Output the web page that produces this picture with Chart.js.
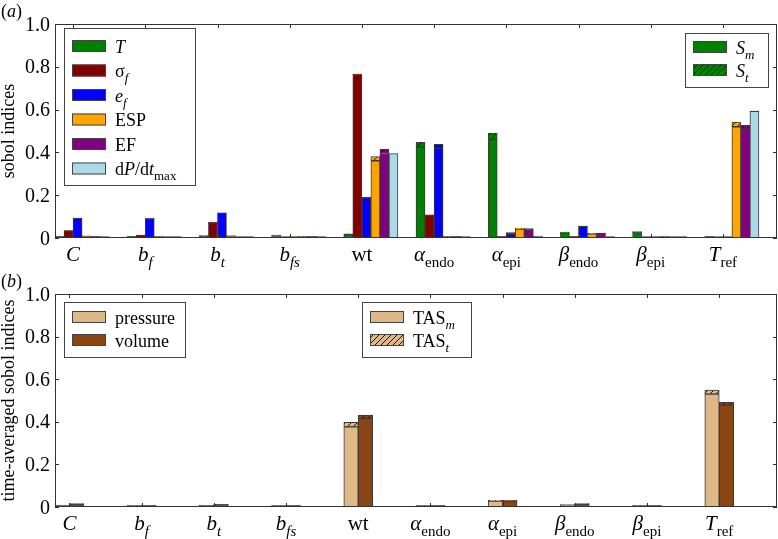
<!DOCTYPE html>
<html>
<head>
<meta charset="utf-8">
<script src="https://cdn.jsdelivr.net/npm/chart.js@4.4.0/dist/chart.umd.min.js"></script>
<style>
html, body { margin: 0; padding: 0; background: #fff; }
canvas { display: block; }
</style>
</head>
<body>
<canvas id="chartA" width="778" height="270"></canvas>
<canvas id="chartB" width="778" height="269"></canvas>
<script>
// tick labels (mini markup: *italic*, _{subscript})
const categories = ['*C*', '*b*_{*f*}', '*b*_{*t*}', '*b*_{*fs*}', 'wt', '*α*_{endo}', '*α*_{epi}', '*β*_{endo}', '*β*_{epi}', '*T*_{ref}'];
const yTicks = [0, 0.2, 0.4, 0.6, 0.8, 1.0];

// panel (a): main (S_m) and total (S_t) sobol indices
const T_main      = [0.003, 0.005, 0.009, 0.004, 0.008, 0.424, 0.461, 0.022, 0.025, 0.002];
const T_total     = [0.004, 0.006, 0.011, 0.011, 0.020, 0.447, 0.489, 0.028, 0.030, 0.003];
const sigma_main  = [0.034, 0.013, 0.071, 0.001, 0.763, 0.106, 0.002, 0.001, 0.001, 0.000];
const sigma_total = [0.035, 0.014, 0.073, 0.001, 0.766, 0.108, 0.003, 0.002, 0.001, 0.000];
const ef_main     = [0.092, 0.091, 0.116, 0.002, 0.188, 0.420, 0.018, 0.055, 0.001, 0.000];
const ef_total    = [0.093, 0.092, 0.118, 0.002, 0.190, 0.438, 0.025, 0.056, 0.001, 0.000];
const esp_main    = [0.005, 0.002, 0.007, 0.001, 0.361, 0.003, 0.042, 0.020, 0.001, 0.520];
const esp_total   = [0.008, 0.003, 0.011, 0.002, 0.381, 0.004, 0.046, 0.022, 0.002, 0.542];
const ef2_main    = [0.001, 0.001, 0.002, 0.001, 0.395, 0.003, 0.038, 0.022, 0.001, 0.511];
const ef2_total   = [0.002, 0.001, 0.002, 0.002, 0.416, 0.004, 0.044, 0.023, 0.001, 0.527];
const dpdt_main   = [0.001, 0.001, 0.002, 0.001, 0.394, 0.001, 0.008, 0.001, 0.001, 0.592];
const dpdt_total  = [0.001, 0.001, 0.002, 0.001, 0.394, 0.001, 0.009, 0.001, 0.001, 0.593];
const seriesNamesA = ['*T*', 'σ_{*f*}', '*e*_{*f*}', 'ESP', 'EF', 'd*P*/d*t*_{max}'];
const seriesColorsA = ['#008000', '#800000', '#0000ff', '#ffa500', '#800080', '#add8e6'];

// panel (b): time-averaged sobol indices
const pressure_main  = [0.006, 0.002, 0.008, 0.001, 0.376, 0.002, 0.028, 0.010, 0.001, 0.530];
const pressure_total = [0.008, 0.003, 0.009, 0.002, 0.397, 0.003, 0.031, 0.011, 0.002, 0.549];
const volume_main    = [0.014, 0.004, 0.011, 0.001, 0.416, 0.003, 0.028, 0.014, 0.001, 0.478];
const volume_total   = [0.016, 0.005, 0.013, 0.002, 0.431, 0.004, 0.031, 0.016, 0.002, 0.491];
const seriesNamesB = ['pressure', 'volume'];
const seriesColorsB = ['#deb887', '#8b4513'];

const FONT = '"Liberation Serif", "DejaVu Serif", serif';

function hatch(color) {
	const c = document.createElement('canvas');
	c.width = c.height = 6;
	const g = c.getContext('2d');
	g.fillStyle = color;
	g.fillRect(0, 0, 6, 6);
	g.strokeStyle = '#111';
	g.lineWidth = 1;
	g.beginPath();
	g.moveTo(0, 6); g.lineTo(6, 0);
	g.moveTo(-1, 1); g.lineTo(1, -1);
	g.moveTo(5, 7); g.lineTo(7, 5);
	g.stroke();
	return g.createPattern(c, 'repeat');
}

function parseRich(s) {
	const segs = [];
	let italic = false, sub = false, buf = '';
	const flush = () => { if (buf) segs.push({ t: buf, italic, sub }); buf = ''; };
	for (let i = 0; i < s.length; i++) {
		const c = s[i];
		if (c === '*') { flush(); italic = !italic; }
		else if (c === '_' && s[i + 1] === '{') { flush(); sub = true; i++; }
		else if (c === '}' && sub) { flush(); sub = false; }
		else buf += c;
	}
	flush();
	return segs;
}

// align: 'left' | 'center' | 'right'
function drawRich(ctx, s, x, y, size, align) {
	const segs = parseRich(s);
	const font = (seg) => `${seg.italic ? 'italic ' : ''}${seg.sub ? Math.round(size * 0.7) : size}px ${FONT}`;
	let w = 0;
	segs.forEach((seg) => { ctx.font = font(seg); seg.w = ctx.measureText(seg.t).width; w += seg.w; });
	let cx = x;
	if (align === 'center') cx = x - w / 2;
	if (align === 'right') cx = x - w;
	ctx.textAlign = 'left';
	ctx.textBaseline = 'alphabetic';
	ctx.fillStyle = '#000';
	segs.forEach((seg) => {
		ctx.font = font(seg);
		ctx.fillText(seg.t, cx, y + (seg.sub ? size * 0.3 : 0));
		cx += seg.w;
	});
}

function buildDatasets(mains, totals, colors, padCount) {
	const ds = [];
	mains.forEach((m, i) => {
		// near-zero indices still show up as a thin edge, as in the original
		ds.push({ data: m, backgroundColor: colors[i], stack: 's' + i, minBarLength: 1.5 });
		ds.push({ data: totals[i].map((t, j) => Math.max(0, t - m[j])), backgroundColor: hatch(colors[i]), stack: 's' + i });
	});
	// empty groups so the real bars sit at the left of each category band
	for (let k = 0; k < padCount; k++) ds.push({ data: [], stack: 'pad' + k });
	return ds;
}

function decor(cfg) {
	return {
		id: 'decor' + cfg.id,
		afterDraw(chart) {
			const { ctx, chartArea: a, scales: { x, y } } = chart;
			ctx.save();
			ctx.strokeStyle = '#333';
			ctx.lineWidth = 1;
			ctx.strokeRect(a.left + 0.5, a.top + 0.5, a.right - a.left - 1, a.bottom - a.top - 1);

			// inward ticks on all four sides
			ctx.beginPath();
			yTicks.forEach((v) => {
				const py = Math.round(y.getPixelForValue(v)) + 0.5;
				ctx.moveTo(a.left, py); ctx.lineTo(a.left + 4, py);
				ctx.moveTo(a.right, py); ctx.lineTo(a.right - 4, py);
			});
			categories.forEach((lab, i) => {
				const px = Math.round(x.getPixelForTick(i) + cfg.labelOffset) + 0.5;
				ctx.moveTo(px, a.bottom); ctx.lineTo(px, a.bottom - 4);
				ctx.moveTo(px, a.top); ctx.lineTo(px, a.top + 4);
			});
			ctx.stroke();

			// y tick labels
			yTicks.forEach((v) => {
				const lab = v === 0 ? '0' : v.toFixed(1);
				drawRich(ctx, lab, a.left - 5, y.getPixelForValue(v) + 6.5, 20, 'right');
			});

			// y axis title
			ctx.save();
			ctx.translate(9, (a.top + a.bottom) / 2);
			ctx.rotate(-Math.PI / 2);
			ctx.font = `18px ${FONT}`;
			ctx.fillStyle = '#000';
			ctx.textAlign = 'center';
			ctx.textBaseline = 'middle';
			ctx.fillText(cfg.yTitle, 0, 0);
			ctx.restore();

			// x tick labels
			categories.forEach((lab, i) => {
				drawRich(ctx, lab, x.getPixelForTick(i) + cfg.labelOffset, a.bottom + 23, 21, 'center');
			});

			cfg.legends.forEach((lg) => {
				const bx = a.left + lg.x, by = a.top + lg.y;
				ctx.fillStyle = '#fff';
				ctx.fillRect(bx, by, lg.w, lg.h);
				ctx.strokeStyle = '#444';
				ctx.strokeRect(bx + 0.5, by + 0.5, lg.w, lg.h);
				lg.items.forEach((it, k) => {
					const cy = by + lg.first + k * lg.step;
					ctx.fillStyle = it.fill;
					ctx.fillRect(bx + 8, cy - 6, 34, 12);
					ctx.strokeStyle = '#444';
					ctx.strokeRect(bx + 8.5, cy - 5.5, 33, 11);
					drawRich(ctx, it.label, bx + 51, cy + 6.5, 18, 'left');
				});
			});

			drawRich(ctx, cfg.letter, 1, 17, 18, 'left');
			ctx.restore();
		},
	};
}

function makeOptions() {
	return {
		responsive: false,
		animation: false,
		layout: { padding: { top: 24, right: 1, left: 0, bottom: 0 } },
		plugins: { legend: { display: false }, tooltip: { enabled: false } },
		datasets: {
			bar: { categoryPercentage: 1, barPercentage: 1, borderWidth: 1, borderColor: '#3a3a3a', borderSkipped: false },
		},
		scales: {
			x: {
				grid: { display: false, drawTicks: false },
				border: { display: false },
				ticks: { display: false },
				afterFit: (s) => { s.height = 32; },
			},
			y: {
				min: 0,
				max: 1,
				afterBuildTicks: (s) => { s.ticks = yTicks.map((v) => ({ value: v })); },
				grid: { display: false, drawTicks: false },
				border: { display: false },
				ticks: { display: false },
				afterFit: (s) => { s.width = 55; },
			},
		},
	};
}

new Chart(document.getElementById('chartA'), {
	type: 'bar',
	data: {
		labels: categories,
		datasets: buildDatasets(
			[T_main, sigma_main, ef_main, esp_main, ef2_main, dpdt_main],
			[T_total, sigma_total, ef_total, esp_total, ef2_total, dpdt_total],
			seriesColorsA, 2),
	},
	options: makeOptions(),
	plugins: [decor({
		id: 'A',
		letter: '(*a*)',
		yTitle: 'sobol indices',
		labelOffset: -18,
		legends: [
			{ x: 9, y: 4, w: 131, h: 157, first: 18, step: 24.5,
				items: seriesNamesA.map((n, i) => ({ label: n, fill: seriesColorsA[i] })) },
			{ x: 630, y: 9, w: 83, h: 54, first: 14, step: 23,
				items: [{ label: '*S*_{*m*}', fill: seriesColorsA[0] }, { label: '*S*_{*t*}', fill: hatch(seriesColorsA[0]) }] },
		],
	})],
});

new Chart(document.getElementById('chartB'), {
	type: 'bar',
	data: {
		labels: categories,
		datasets: buildDatasets(
			[pressure_main, volume_main],
			[pressure_total, volume_total],
			seriesColorsB, 3),
	},
	options: makeOptions(),
	plugins: [decor({
		id: 'B',
		letter: '(*b*)',
		yTitle: 'time-averaged sobol indices',
		labelOffset: -21.7,
		legends: [
			{ x: 9, y: 8, w: 121, h: 55, first: 15, step: 23,
				items: seriesNamesB.map((n, i) => ({ label: n, fill: seriesColorsB[i] })) },
			{ x: 307, y: 8, w: 109, h: 55, first: 15, step: 23,
				items: [{ label: 'TAS_{*m*}', fill: seriesColorsB[0] }, { label: 'TAS_{*t*}', fill: hatch(seriesColorsB[0]) }] },
		],
	})],
});
</script>
</body>
</html>
